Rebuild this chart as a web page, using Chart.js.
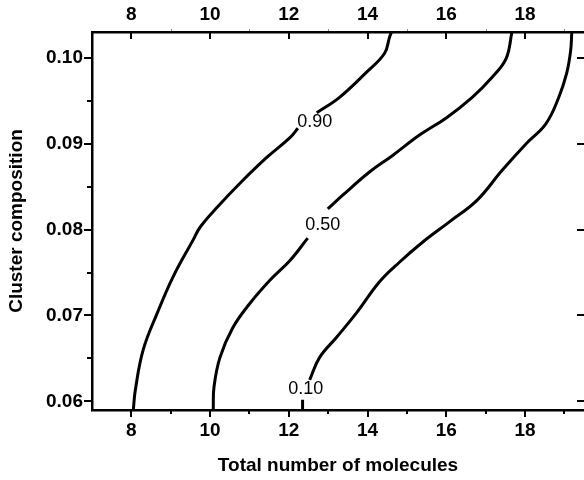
<!DOCTYPE html>
<html>
<head>
<meta charset="utf-8">
<script src="https://cdn.jsdelivr.net/npm/chart.js@4.4.0/dist/chart.umd.min.js"></script>
<style>
  html, body { margin: 0; padding: 0; background: #fff; }
  #wrap { width: 584px; height: 480px; }
</style>
</head>
<body>
<div id="wrap"><canvas id="myChart"></canvas></div>
<script>
// axis ticks
const xTicks = [8, 10, 12, 14, 16, 18];
const xTickLabels = ["8", "10", "12", "14", "16", "18"];
const xMinorTicks = [9, 11, 13, 15, 17, 19];
const yTicks = [0.06, 0.07, 0.08, 0.09, 0.10];
const yTickLabels = ["0.06", "0.07", "0.08", "0.09", "0.10"];
const yMinorTicks = [0.065, 0.075, 0.085, 0.095];

// contour lines (null = gap where the level label sits)
const curve90X = [8.05, 8.10, 8.30, 8.66, 9.06, 9.57, 9.75, 10.18, 10.76, 11.44, 12.03, 12.23, null, 12.71, 13.29, 13.97, 14.43, 14.56, 14.61];
const curve90Y = [0.059, 0.0613, 0.0660, 0.0703, 0.0745, 0.0788, 0.0803, 0.0826, 0.0854, 0.0884, 0.0907, 0.0918, null, 0.0936, 0.0954, 0.0983, 0.1005, 0.1024, 0.103];

const curve50X = [10.08, 10.10, 10.25, 10.58, 11.01, 11.52, 12.03, 12.48, null, 12.99, 13.37, 14.05, 14.63, 15.32, 16.00, 16.66, 17.16, 17.52, 17.67];
const curve50Y = [0.059, 0.0617, 0.0651, 0.0686, 0.0714, 0.0741, 0.0764, 0.0790, null, 0.0824, 0.0840, 0.0867, 0.0886, 0.0910, 0.0930, 0.0954, 0.0977, 0.0999, 0.103];

const curve10X = [12.35, 12.35, null, 12.53, 12.78, 13.22, 13.72, 14.30, 14.81, 15.39, 16.08, 16.78, 17.42, 18.03, 18.53, 18.86, 19.06, 19.16, 19.19];
const curve10Y = [0.059, 0.0602, null, 0.0625, 0.0651, 0.0675, 0.0703, 0.0739, 0.0762, 0.0785, 0.0809, 0.0834, 0.0869, 0.0900, 0.0923, 0.0954, 0.0982, 0.1008, 0.103];

// level labels
const levelText = ["0.90", "0.50", "0.10"];
const levelX = [12.66, 12.86, 12.43];
const levelY = [0.0925, 0.0805, 0.0614];

const FONT = "'Liberation Sans', Arial, sans-serif";

function toPoints(xs, ys) {
  return xs.map((v, i) => ({ x: v, y: ys[i] }));
}

function line(xs, ys) {
  return {
    data: toPoints(xs, ys),
    borderColor: "#000",
    borderWidth: 3,
    pointRadius: 0,
    tension: 0.4,
    fill: false,
    spanGaps: false,
  };
}

// tick marks: outward at bottom/left, inward at top/right
const frameTicks = {
  id: "frameTicks",
  afterDraw(chart) {
    const { ctx, chartArea: a } = chart;
    const x = chart.scales.x, y = chart.scales.y;
    ctx.save();
    ctx.strokeStyle = "#000";
    ctx.lineWidth = 2;
    ctx.beginPath();
    xTicks.forEach((v) => {
      const px = Math.round(x.getPixelForValue(v));
      ctx.moveTo(px, a.bottom); ctx.lineTo(px, a.bottom + 7);
      ctx.moveTo(px, a.top); ctx.lineTo(px, a.top + 7);
    });
    xMinorTicks.forEach((v) => {
      const px = Math.round(x.getPixelForValue(v));
      ctx.moveTo(px, a.bottom); ctx.lineTo(px, a.bottom + 4);
    });
    yTicks.forEach((v) => {
      const py = Math.round(y.getPixelForValue(v));
      ctx.moveTo(a.left - 8, py); ctx.lineTo(a.left, py);
      ctx.moveTo(a.right - 7, py); ctx.lineTo(a.right, py);
    });
    yMinorTicks.forEach((v) => {
      const py = Math.round(y.getPixelForValue(v));
      ctx.moveTo(a.left - 5, py); ctx.lineTo(a.left, py);
    });
    ctx.stroke();
    ctx.lineWidth = 1;
    ctx.strokeStyle = "#888";
    ctx.beginPath();
    xMinorTicks.forEach((v) => {
      const px = Math.round(x.getPixelForValue(v)) + 0.5;
      ctx.moveTo(px, a.top - 1); ctx.lineTo(px, a.top - 3);
    });
    ctx.stroke();
    ctx.restore();
  },
};

const levelLabels = {
  id: "levelLabels",
  afterDatasetsDraw(chart) {
    const { ctx } = chart;
    const x = chart.scales.x, y = chart.scales.y;
    ctx.save();
    ctx.fillStyle = "#000";
    ctx.font = "18px " + FONT;
    ctx.textAlign = "center";
    ctx.textBaseline = "middle";
    levelText.forEach((t, i) => {
      ctx.fillText(t, x.getPixelForValue(levelX[i]), y.getPixelForValue(levelY[i]));
    });
    ctx.restore();
  },
};

const tickFont = { family: FONT, size: 19, weight: "bold" };
const noGrid = { display: true, drawOnChartArea: false, drawTicks: false };
const border = { display: true, color: "#000", width: 2.5 };

const ctx = document.getElementById("myChart").getContext("2d");
new Chart(ctx, {
  type: "line",
  data: {
    datasets: [line(curve90X, curve90Y), line(curve50X, curve50Y), line(curve10X, curve10Y)],
  },
  options: {
    responsive: true,
    maintainAspectRatio: false,
    animation: false,
    layout: { padding: 0 },
    plugins: { legend: { display: false }, tooltip: { enabled: false } },
    scales: {
      x: {
        type: "linear",
        position: "bottom",
        min: 7,
        max: 19.5,
        afterBuildTicks: (s) => { s.ticks = xTicks.map((v) => ({ value: v })); },
        afterFit: (s) => { s.height = 70; },
        grid: noGrid,
        border: border,
        ticks: {
          color: "#000", font: tickFont, padding: 9, maxRotation: 0, autoSkip: false,
          callback: (v, i) => xTickLabels[i],
        },
        title: {
          display: true, text: "Total number of molecules", color: "#000",
          font: { family: FONT, size: 19, weight: "bold" }, padding: { top: 0, bottom: 3 },
        },
      },
      x2: {
        type: "linear",
        position: "top",
        min: 7,
        max: 19.5,
        afterBuildTicks: (s) => { s.ticks = xTicks.map((v) => ({ value: v })); },
        afterFit: (s) => { s.height = 32; },
        grid: noGrid,
        border: border,
        ticks: {
          color: "#000", font: tickFont, padding: 6, maxRotation: 0, autoSkip: false,
          callback: (v, i) => xTickLabels[i],
        },
      },
      y: {
        type: "linear",
        position: "left",
        min: 0.059,
        max: 0.103,
        afterBuildTicks: (s) => { s.ticks = yTicks.map((v) => ({ value: v })); },
        afterFit: (s) => { s.width = 92; },
        grid: noGrid,
        border: border,
        ticks: {
          color: "#000", font: tickFont, padding: 9, autoSkip: false,
          callback: (v, i) => yTickLabels[i],
        },
        title: {
          display: true, text: "Cluster composition", color: "#000",
          font: { family: FONT, size: 19, weight: "bold" }, padding: { top: 5, bottom: 0 },
        },
      },
    },
  },
  plugins: [frameTicks, levelLabels],
});
</script>
</body>
</html>
